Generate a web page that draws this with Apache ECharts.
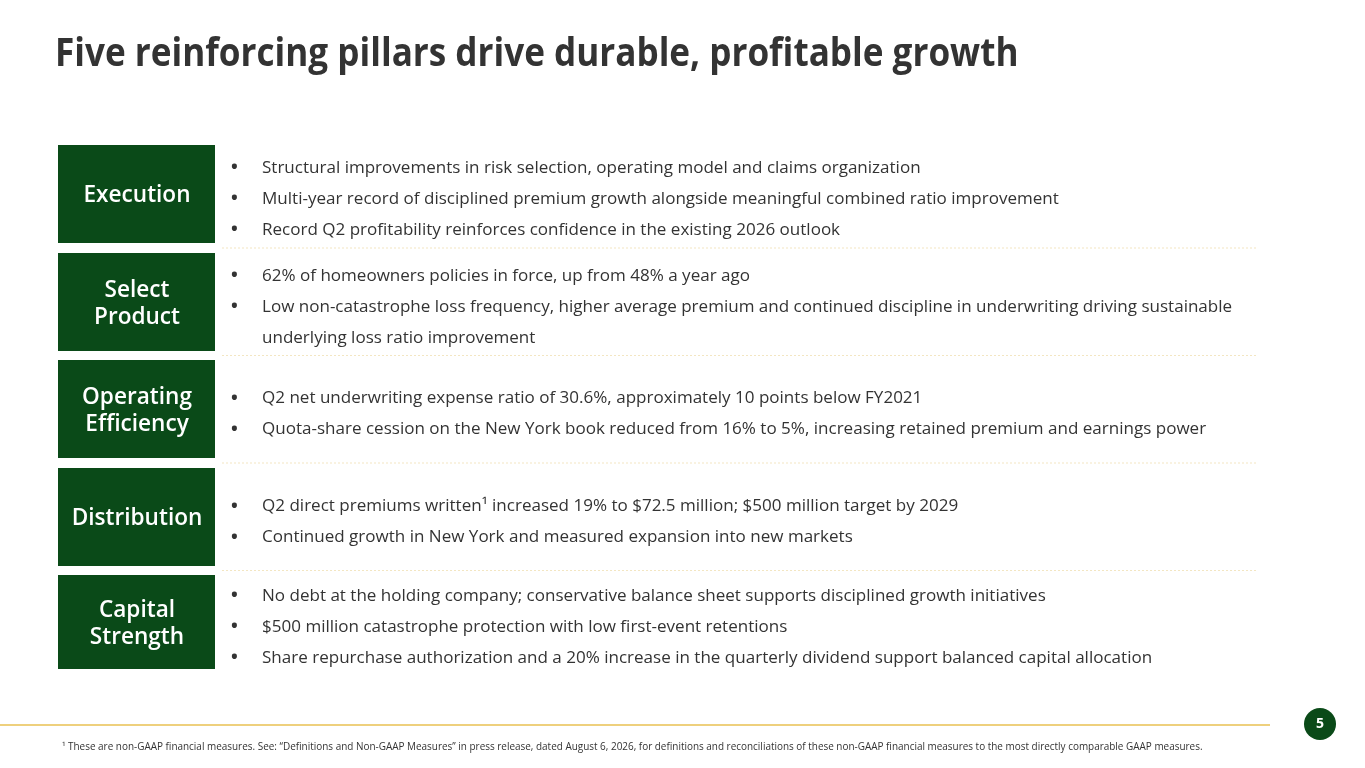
<!DOCTYPE html>
<html><head><meta charset="utf-8">
<script src="https://cdn.jsdelivr.net/npm/echarts@6/dist/echarts.min.js"></script>
<style>html,body{margin:0;padding:0;background:#fff}#c{width:1365px;height:768px}</style>
</head><body><div id="c"></div>
<script>
const title = "Five reinforcing pillars drive durable, profitable growth";
const pillars = ["Execution", "Select\nProduct", "Operating\nEfficiency", "Distribution", "Capital\nStrength"];
const bullets1 = ["Structural improvements in risk selection, operating model and claims organization",
  "Multi-year record of disciplined premium growth alongside meaningful combined ratio improvement",
  "Record Q2 profitability reinforces confidence in the existing 2026 outlook"];
const bullets2 = ["62% of homeowners policies in force, up from 48% a year ago",
  "Low non-catastrophe loss frequency, higher average premium and continued discipline in underwriting driving sustainable",
  "underlying loss ratio improvement"];
const bullets3 = ["Q2 net underwriting expense ratio of 30.6%, approximately 10 points below FY2021",
  "Quota-share cession on the New York book reduced from 16% to 5%, increasing retained premium and earnings power"];
const bullets4 = ["Q2 direct premiums written\u00b9 increased 19% to $72.5 million; $500 million target by 2029",
  "Continued growth in New York and measured expansion into new markets"];
const bullets5 = ["No debt at the holding company; conservative balance sheet supports disciplined growth initiatives",
  "$500 million catastrophe protection with low first-event retentions",
  "Share repurchase authorization and a 20% increase in the quarterly dividend support balanced capital allocation"];
const bulletMarks = [[1,1,1],[1,1,0],[1,1],[1,1],[1,1,1]];
const footnote = "\u00b9 These are non-GAAP financial measures. See: \u201cDefinitions and Non-GAAP Measures\u201d in press release, dated August 6, 2026, for definitions and reconciliations of these non-GAAP financial measures to the most directly comparable GAAP measures.";
const pageNumber = "5";

const allBullets = [bullets1, bullets2, bullets3, bullets4, bullets5];
const GREEN = "#0a4a18", TEXT = "#333333", GOLD = "#e9c052";
const FONT = "'Open Sans', 'Noto Sans', sans-serif";
const boxTops = [145, 253, 360, 468, 575];
const boxH = [98, 98, 98, 98, 94];
const els = [];
els.push({type:'text', x:55, y:55, scaleX:0.9, originX:0, originY:0,
  style:{text:title, font:"bold 39px " + FONT, fill:TEXT, verticalAlign:'middle'}});
pillars.forEach((p, i) => {
  const t = boxTops[i], h = boxH[i], cy = t + h/2;
  els.push({type:'rect', shape:{x:58, y:t, width:157, height:h}, style:{fill:GREEN}});
  els.push({type:'text', x:137, y:cy + 2, style:{text:p, font:"600 22.6px " + FONT, fill:"#fff", align:'center', verticalAlign:'middle', lineHeight:27}});
  const lines = allBullets[i];
  const n = lines.length;
  lines.forEach((ln, j) => {
    const y = cy + (j - (n-1)/2) * 31 + 5;
    if (bulletMarks[i][j]) els.push({type:'text', x:231, y:y, style:{text:"\u2022", font:"bold 18px " + FONT, fill:TEXT, verticalAlign:'middle'}});
    els.push({type:'text', x:262, y:y, style:{text:ln, font:"17.05px " + FONT, fill:TEXT, verticalAlign:'middle'}});
  });
  if (i < 4) {
    const sy = (t + h + boxTops[i+1]) / 2;
    els.push({type:'line', shape:{x1:222, y1:sy, x2:1256, y2:sy}, style:{stroke:"#f3e6c2", lineWidth:1, lineDash:[2,2]}});
  }
});
els.push({type:'line', shape:{x1:0, y1:725, x2:1270, y2:725}, style:{stroke:GOLD, lineWidth:1.5}});
els.push({type:'circle', shape:{cx:1320, cy:724, r:16}, style:{fill:GREEN}});
els.push({type:'text', x:1320, y:724, style:{text:pageNumber, font:"bold 14px " + FONT, fill:"#fff", align:'center', verticalAlign:'middle'}});
els.push({type:'text', x:62, y:747, style:{text:footnote, font:"9.95px " + FONT, fill:TEXT, verticalAlign:'middle'}});

const chart = echarts.init(document.getElementById('c'));
chart.setOption({backgroundColor:'#fff', graphic:{elements:els}});
</script></body></html>
